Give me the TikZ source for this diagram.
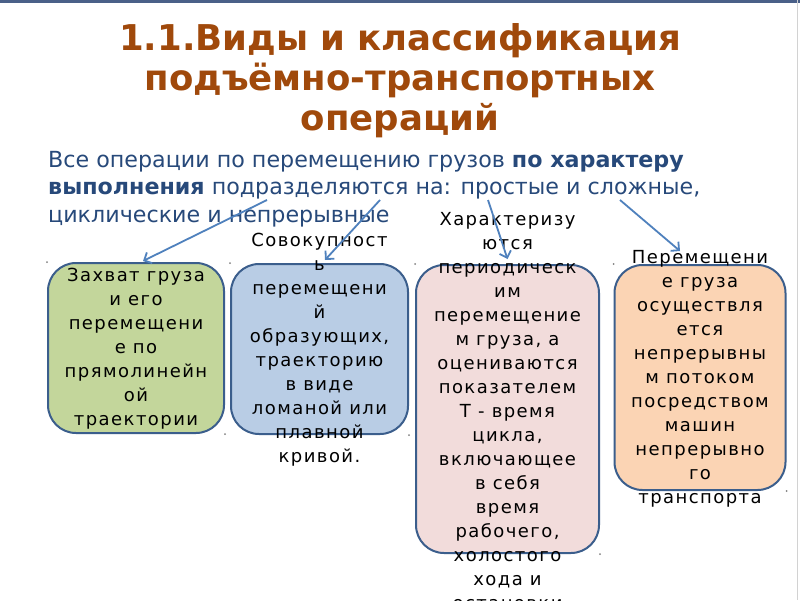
\documentclass[tikz,border=0pt]{standalone}
\usepackage{fontspec}
\setmainfont{DejaVu Sans}
\newfontfamily\boxfont[LetterSpace=8]{DejaVu Sans}
\usetikzlibrary{arrows.meta}
\definecolor{titlebrown}{HTML}{A0490B}
\definecolor{textblue}{HTML}{27497A}
\definecolor{boxline}{HTML}{3B5E8C}
\definecolor{arrowblue}{HTML}{4F81BD}
\definecolor{fillgreen}{HTML}{C3D69B}
\definecolor{fillblue}{HTML}{B9CDE5}
\definecolor{fillpink}{HTML}{F2DCDB}
\definecolor{fillorange}{HTML}{FBD4B4}
\definecolor{topstrip}{HTML}{4A6088}
\tikzset{
    opbox/.style={draw=boxline, line width=2pt, rounded corners=28pt, inner sep=0pt}
}
\tikzset{
    boxtext/.style={align=center, inner sep=0pt, font=\boxfont\fontsize{18}{24}\selectfont},
    arr/.style={draw=arrowblue, line width=1.8pt, -{Straight Barb[length=6pt,width=12pt]}}
}

\begin{document}
\begin{tikzpicture}[x=1pt, y=-1pt]
        \useasboundingbox (0,0) rectangle (800,600);
        \clip (0,0) rectangle (800,600);
        \fill[white] (0,0) rectangle (800,600);
        \fill[topstrip] (0,0) rectangle (800,2.5);
        \draw[gray!35, line width=1pt] (797.5,0) -- (797.5,600);
        \node (title) [align=center, text=titlebrown, font=\bfseries\fontsize{35.5}{40}\selectfont] at (400,81) {1.1.Виды и классификация\\подъёмно-транспортных\\операций};
        \node (intro) [anchor=north west, align=left, inner sep=0pt, text=textblue, font=\fontsize{22.2}{27.5}\selectfont] at (48,151) {Все операции по перемещению грузов \textbf{по характеру}\\\textbf{выполнения} подразделяются на: простые и сложные,\\циклические и непрерывные};
        \node (b1) [opbox, fill=fillgreen, minimum width=176pt, minimum height=170pt] at (136,348) {};
        \node (b2) [opbox, fill=fillblue, minimum width=177pt, minimum height=170pt] at (319.5,349) {};
        \node (b3) [opbox, fill=fillpink, minimum width=183pt, minimum height=288pt] at (507.5,409) {};
        \node (b4) [opbox, fill=fillorange, minimum width=171pt, minimum height=225pt] at (700,377.5) {};
        \foreach \b in {b1,b2,b3,b4} {
                \fill[gray] (\b.north west) circle (1pt);
                \fill[gray] (\b.south east) circle (1pt);
        }
        \node (t1) [boxtext] at ([yshift=-1pt]b1.center) {Захват груза\\и его\\перемещени\\е по\\прямолинейн\\ой\\траектории};
        \node (t2) [boxtext] at ([yshift=-1pt]b2.center) {Совокупност\\ь\\перемещени\\й\\образующих,\\траекторию\\в виде\\ломаной или\\плавной\\кривой.};
        \node (t3) [boxtext] at ([yshift=-2pt]b3.center) {Характеризу\\ются\\периодическ\\им\\перемещение\\м груза, а\\оцениваются\\показателем\\Т - время\\цикла,\\включающее\\в себя\\время\\рабочего,\\холостого\\хода и\\остановки};
        \node (t4) [boxtext] at ([yshift=-1pt]b4.center) {Перемещени\\е груза\\осуществля\\ется\\непрерывны\\м потоком\\посредством\\машин\\непрерывно\\го\\транспорта};
        \coordinate (s1) at (267,200);
        \coordinate (s2) at (380,200);
        \coordinate (s3) at (488,200);
        \coordinate (s4) at (620,200);
        \draw[arr] (s1) -- ([xshift=7pt, yshift=1pt]b1.north);
        \draw[arr] (s2) -- ([xshift=5.5pt, yshift=3pt]b2.north);
        \draw[arr] (s3) -- ([yshift=5pt]b3.north);
        \draw[arr] (s4) -- ([xshift=-20pt, yshift=13pt]b4.north);
\end{tikzpicture}
\end{document}
